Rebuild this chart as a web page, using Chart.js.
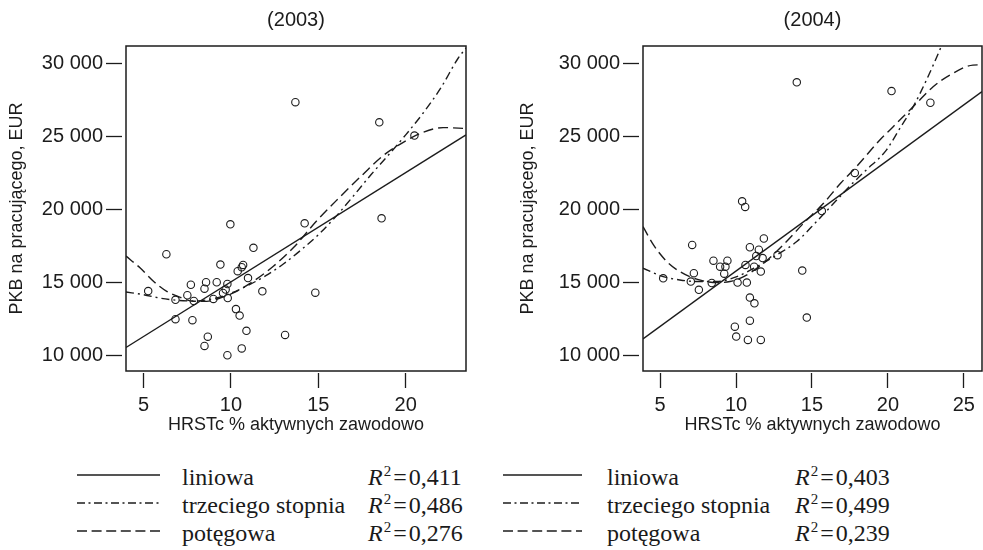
<!DOCTYPE html>
<html>
<head>
<meta charset="utf-8">
<script src="https://cdn.jsdelivr.net/npm/chart.js@4.4.1/dist/chart.umd.min.js"></script>
<style>
  html, body { margin:0; padding:0; background:#fff; }
  body { width:983px; height:550px; overflow:hidden; position:relative; }
  canvas.cv { position:absolute; top:0; }
  .leg { position:absolute; font-family:"Liberation Serif","Times New Roman",serif; font-size:24px; line-height:28px; color:#1a1a1a; white-space:nowrap; }
  .leg i { font-style:italic; }
  .leg sup { font-size:15px; vertical-align:9px; line-height:0; margin-left:1px; }
  .leg .eq { margin:0 2px; }
</style>
</head>
<body>
<canvas id="c2003" class="cv" width="490" height="450" style="left:0px"></canvas>
<canvas id="c2004" class="cv" width="500" height="450" style="left:500px"></canvas>
<svg id="legsvg" style="position:absolute;left:0;top:450px" width="983" height="100"></svg>
<div id="legend"></div>
<script>
// ---------------- data ----------------
const xAxisTitle = 'HRSTc % aktywnych zawodowo';
const yAxisTitle = 'PKB na pracującego, EUR';
const yTicks = [10000, 15000, 20000, 25000, 30000];

// 2003
const title2003 = '(2003)';
const xTicks2003 = [5, 10, 15, 20];
const pts2003X = [5.27, 6.31, 6.83, 6.83, 7.51, 7.71, 7.80, 7.88, 8.49, 8.58, 8.68, 8.49, 9.00, 9.19, 9.40, 9.55, 9.70, 9.80, 9.82, 9.80, 9.97, 10.29, 10.50, 10.39, 10.62, 10.70, 10.62, 10.89, 10.98, 11.29, 11.80, 13.10, 13.69, 14.22, 14.83, 18.49, 18.62, 20.50];
const pts2003Y = [14400, 16920, 13800, 12470, 14110, 14830, 12400, 13720, 14560, 15000, 11270, 10640, 13860, 15000, 16210, 14270, 14500, 14880, 13920, 10000, 18970, 13160, 12720, 15760, 16030, 16190, 10470, 11670, 15290, 17360, 14380, 11390, 27340, 19040, 14290, 25960, 19380, 25050];
const lin2003X = [4.0, 23.45];
const lin2003Y = [10530, 25100];
const cub2003X = [4.0, 5, 6, 7, 8, 9, 10, 11, 12, 13, 14, 15, 16, 17, 18, 19, 20, 21, 22, 23, 23.45];
const cub2003Y = [14330, 14150, 13900, 13760, 13720, 13880, 14250, 14800, 15450, 16250, 17200, 18250, 19500, 20900, 22350, 23700, 25100, 26600, 28300, 30350, 31050];
const pow2003X = [4.0, 4.8, 5.57, 6.33, 7.1, 7.86, 8.62, 9.38, 10.14, 11.28, 12.43, 13.57, 14.9, 16.2, 17.57, 18.7, 19.86, 21.0, 22.14, 23.45];
const pow2003Y = [16790, 15990, 15070, 14380, 13970, 13700, 13690, 13920, 14270, 15070, 16100, 17360, 19200, 20800, 22410, 23670, 24590, 25280, 25600, 25540];
const r2_2003 = ['0,411', '0,486', '0,276'];

// 2004
const title2004 = '(2004)';
const xTicks2004 = [5, 10, 15, 20, 25];
const pts2004X = [5.20, 7.11, 7.22, 7.02, 7.55, 8.40, 8.51, 8.95, 9.30, 9.22, 9.43, 9.92, 10.01, 10.10, 10.40, 10.60, 10.62, 10.71, 10.78, 10.91, 10.91, 10.91, 11.21, 11.19, 11.33, 11.50, 11.63, 11.63, 11.75, 11.83, 12.73, 14.00, 14.36, 14.66, 15.65, 17.82, 20.24, 22.80];
const pts2004Y = [15270, 17560, 15620, 15050, 14480, 14950, 16480, 16070, 16070, 15590, 16480, 11960, 11280, 14980, 20550, 20160, 16190, 14980, 11050, 17400, 12370, 13950, 13560, 16070, 16800, 17230, 15730, 11050, 16660, 18000, 16860, 28700, 15800, 12580, 19880, 22490, 28100, 27300];
const lin2004X = [3.87, 26.2];
const lin2004Y = [11120, 28060];
const cub2004X = [3.87, 5.2, 6.3, 7.4, 8.7, 10.05, 11.37, 12.68, 14.0, 15.3, 16.6, 17.5, 18.48, 19.9, 20.79, 21.67, 22.54, 23.53, 24.0];
const cub2004Y = [15960, 15390, 15160, 15050, 15050, 15390, 16070, 16870, 17790, 19160, 20600, 21600, 22600, 24060, 25550, 27030, 28860, 31190, 32400];
const pow2004X = [3.87, 4.56, 5.44, 6.3, 7.4, 8.73, 9.6, 10.5, 11.8, 13.1, 14.44, 15.76, 16.9, 17.93, 19.47, 20.35, 21.22, 22.1, 22.98, 24.08, 25.6, 26.2];
const pow2004Y = [18810, 17560, 16420, 15730, 15210, 14980, 15050, 15390, 16300, 17560, 19040, 20410, 21800, 22920, 24750, 25660, 26570, 27490, 28400, 29200, 29880, 29900];
const r2_2004 = ['0,403', '0,499', '0,239'];

const legendLabels = ['liniowa', 'trzeciego stopnia', 'potęgowa'];

// ---------------- styles ----------------
const SANS = '"Liberation Sans", Arial, Helvetica, sans-serif';
const INK = '#1c1c1c';
const DASH = [10, 5];
const DASHDOT = [8, 4, 2, 4];

const zip = (xs, ys) => xs.map((x, i) => ({ x: x, y: ys[i] }));
const fmt = v => String(v).replace(/\B(?=(\d{3})+(?!\d))/g, ' ');

const boxPlugin = {
  id: 'box',
  afterDraw(chart) {
    const a = chart.chartArea, ctx = chart.ctx;
    ctx.save();
    ctx.strokeStyle = INK;
    ctx.lineWidth = 1.5;
    ctx.strokeRect(a.left, a.top, a.right - a.left, a.bottom - a.top);
    ctx.restore();
  }
};

function makeChart(id, cfg) {
  const lineDs = (xs, ys, dash, curve) => ({
    type: 'scatter', data: zip(xs, ys), showLine: true, pointRadius: 0,
    borderColor: INK, borderWidth: 1.4, borderDash: dash, fill: false,
    cubicInterpolationMode: curve ? 'monotone' : 'default', tension: 0
  });
  return new Chart(document.getElementById(id), {
    type: 'scatter',
    data: {
      datasets: [
        { data: zip(cfg.px, cfg.py), pointRadius: 3.7, pointHoverRadius: 3.7, pointBorderWidth: 1.1,
          pointBorderColor: INK, pointBackgroundColor: 'rgba(255,255,255,0)', showLine: false },
        lineDs(cfg.lx, cfg.ly, [], false),
        lineDs(cfg.cx, cfg.cy, DASHDOT, true),
        lineDs(cfg.wx, cfg.wy, DASH, true)
      ]
    },
    options: {
      responsive: false, animation: false,
      layout: { padding: { left: 0, right: cfg.padRight, top: 0, bottom: 0 } },
      plugins: {
        legend: { display: false }, tooltip: { enabled: false },
        title: { display: true, text: cfg.title, fullSize: false, color: INK,
                 font: { family: SANS, size: 20, weight: 'normal', lineHeight: 1.2 },
                 padding: { top: 8, bottom: 14 } }
      },
      scales: {
        x: {
          type: 'linear', position: 'bottom', min: cfg.xMin, max: cfg.xMax,
          afterBuildTicks: s => { s.ticks = cfg.xTicks.map(v => ({ value: v })); },
          afterFit: s => { s.height = 79; },
          grid: { display: true, drawOnChartArea: false, drawTicks: true, tickLength: 17,
                  color: INK, tickWidth: 1.3, tickBorderDash: [0, 2, 15, 60] },
          border: { display: false },
          ticks: { color: INK, font: { family: SANS, size: 20 }, padding: 5, maxRotation: 0, autoSkip: false },
          title: { display: true, text: xAxisTitle, color: INK, font: { family: SANS, size: 18 },
                   padding: { top: 0, bottom: 13.7 } }
        },
        y: {
          type: 'linear', position: 'left', min: 8920, max: 31190,
          afterBuildTicks: s => { s.ticks = yTicks.map(v => ({ value: v })); },
          afterFit: s => { s.width = cfg.yWidth; },
          grid: { display: true, drawOnChartArea: false, drawTicks: true, tickLength: 20,
                  color: INK, tickWidth: 1.3, tickBorderDash: [16, 60] },
          border: { display: false },
          ticks: { color: INK, font: { family: SANS, size: 20 }, padding: 3, autoSkip: false,
                   callback: v => fmt(v) },
          title: { display: true, text: yAxisTitle, color: INK, font: { family: SANS, size: 18 },
                   padding: { top: cfg.yTitlePad, bottom: 0 } }
        }
      }
    },
    plugins: [boxPlugin]
  });
}

makeChart('c2003', {
  title: title2003, px: pts2003X, py: pts2003Y, lx: lin2003X, ly: lin2003Y,
  cx: cub2003X, cy: cub2003Y, wx: pow2003X, wy: pow2003Y,
  xTicks: xTicks2003, xMin: 4.0, xMax: 23.45, yWidth: 126, padRight: 24, yTitlePad: 5.8
});
makeChart('c2004', {
  title: title2004, px: pts2004X, py: pts2004Y, lx: lin2004X, ly: lin2004Y,
  cx: cub2004X, cy: cub2004Y, wx: pow2004X, wy: pow2004Y,
  xTicks: xTicks2004, xMin: 3.87, xMax: 26.2, yWidth: 143, padRight: 18, yTitlePad: 17
});

// ---------------- legend ----------------
const svg = document.getElementById('legsvg');
const legDiv = document.getElementById('legend');
const dashes = ['', '8,3.5,2,3.5', '10,4.6'];
const groups = [
  { lineX1: 77, lineX2: 160, textX: 182, r2X: 368, r2: r2_2003 },
  { lineX1: 503, lineX2: 582, textX: 607, r2X: 795, r2: r2_2004 }
];
const rowLineY = [25, 53, 81];
const rowTop = [463, 491, 519];
groups.forEach(g => {
  legendLabels.forEach((lab, i) => {
    const ln = document.createElementNS('http://www.w3.org/2000/svg', 'line');
    ln.setAttribute('x1', g.lineX1); ln.setAttribute('x2', g.lineX2);
    ln.setAttribute('y1', rowLineY[i]); ln.setAttribute('y2', rowLineY[i]);
    ln.setAttribute('stroke', INK); ln.setAttribute('stroke-width', '1.6');
    if (dashes[i]) ln.setAttribute('stroke-dasharray', dashes[i]);
    svg.appendChild(ln);
    const t = document.createElement('div');
    t.className = 'leg'; t.style.left = g.textX + 'px'; t.style.top = rowTop[i] + 'px';
    t.textContent = lab;
    legDiv.appendChild(t);
    const r = document.createElement('div');
    r.className = 'leg'; r.style.left = g.r2X + 'px'; r.style.top = rowTop[i] + 'px';
    r.innerHTML = '<i>R</i><sup>2</sup><span class="eq">=</span>' + g.r2[i];
    legDiv.appendChild(r);
  });
});
</script>
</body>
</html>
